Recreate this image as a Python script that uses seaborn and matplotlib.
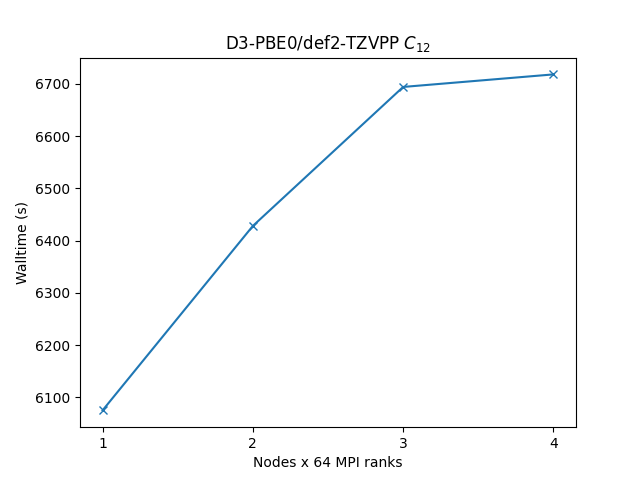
import matplotlib
matplotlib.use("Agg")
import matplotlib.pyplot as plt
import seaborn as sns
import pandas as pd

# data
nodes = [1, 2, 3, 4]
walltime = [6075, 6428, 6694, 6718]

df = pd.DataFrame({"nodes": nodes, "walltime": walltime})

fig, ax = plt.subplots(figsize=(6.4, 4.8), dpi=100)
sns.lineplot(data=df, x="nodes", y="walltime", marker="x", markersize=6,
             markeredgewidth=1, color="#1f77b4", markeredgecolor="#1f77b4",
             ax=ax)
ax.set_xticks(nodes)
ax.set_xlabel("Nodes x 64 MPI ranks")
ax.set_ylabel("Walltime (s)")
ax.set_title("D3-PBE0/def2-TZVPP $C_{12}$")

fig.savefig("out.png", dpi=100)
